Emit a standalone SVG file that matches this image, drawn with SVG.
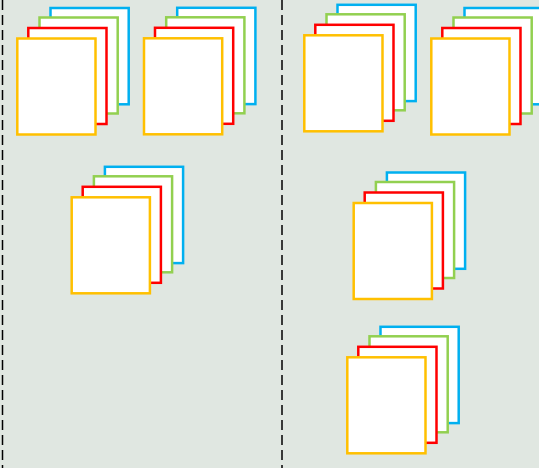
<svg xmlns="http://www.w3.org/2000/svg" xmlns:xlink="http://www.w3.org/1999/xlink" width="539" height="468" viewBox="0 0 539 468">
  <style>
    .pg { fill: #ffffff; stroke-width: 2.5; }
    .b { stroke: #00b0f0; }
    .g { stroke: #92d050; }
    .r { stroke: #ff0000; }
    .y { stroke: #ffc000; }
    .div { stroke: #000000; stroke-width: 1.5; stroke-dasharray: 10 5; fill: none; }
  </style>
  <defs>
    <g id="stack">
      <rect class="pg b" x="33.2" y="-30.5" width="78.2" height="96.3"/>
      <rect class="pg g" x="22.2" y="-21" width="78.2" height="96"/>
      <rect class="pg r" x="11" y="-10.5" width="78.2" height="96"/>
      <rect class="pg y" x="0" y="0" width="78.2" height="96"/>
    </g>
  </defs>
  <rect x="0" y="0" width="539" height="468" fill="#e0e7e1"/>
  <g id="dividers">
    <line class="div" x1="2.5" y1="0" x2="2.5" y2="468"/>
    <line class="div" x1="282" y1="0" x2="282" y2="468"/>
  </g>
  <g id="stack1" transform="translate(17.3,38.5)"><use xlink:href="#stack"/></g>
  <g id="stack2" transform="translate(144,38.3)"><use xlink:href="#stack"/></g>
  <g id="stack3" transform="translate(304.3,35.3)"><use xlink:href="#stack"/></g>
  <g id="stack4" transform="translate(431.3,38.5)"><use xlink:href="#stack"/></g>
  <g id="stack5" transform="translate(71.7,197.3)"><use xlink:href="#stack"/></g>
  <g id="stack6" transform="translate(353.7,203)"><use xlink:href="#stack"/></g>
  <g id="stack7" transform="translate(347.3,357.3)"><use xlink:href="#stack"/></g>
  <g id="connectors"></g>
</svg>
